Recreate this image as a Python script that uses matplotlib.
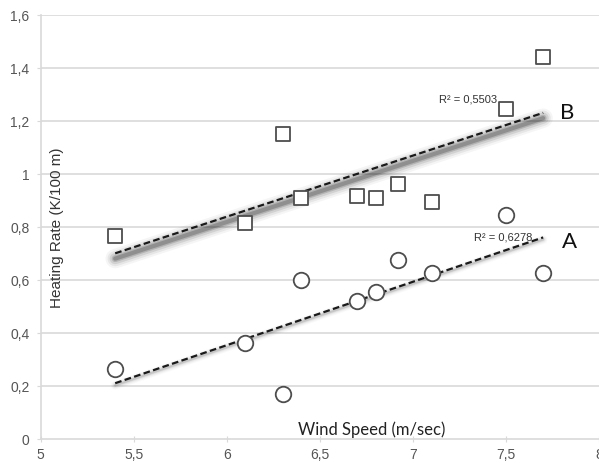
import numpy as np
import matplotlib.pyplot as plt
from matplotlib.ticker import FuncFormatter

# === Данные ===
wind_b = [5.4, 6.1, 6.3, 6.4, 6.7, 6.8, 6.92, 7.1, 7.5, 7.7]
heat_b = [0.765, 0.815, 1.15, 0.91, 0.915, 0.91, 0.96, 0.895, 1.245, 1.44]

wind_a = [5.4, 6.1, 6.3, 6.4, 6.7, 6.8, 6.92, 7.1, 7.5, 7.7]
heat_a = [0.265, 0.36, 0.17, 0.60, 0.52, 0.555, 0.675, 0.625, 0.845, 0.625]

# концы линий тренда (как нарисованы на графике)
trend_x = [5.4, 7.7]
trend_b = [0.70, 1.23]
trend_a = [0.21, 0.76]

r2_b = "R² = 0,5503"
r2_a = "R² = 0,6278"

xticks = [5, 5.5, 6, 6.5, 7, 7.5, 8]
yticks = [0, 0.2, 0.4, 0.6, 0.8, 1.0, 1.2, 1.4, 1.6]

# === Фигура ===
fig = plt.figure(figsize=(5.99, 4.64), dpi=100)
ax = fig.add_axes([0.068, 0.052, 0.932, 0.914])

grid_c = '#d9d9d9'
tick_c = '#555555'

for y in yticks[1:]:
    ax.axhline(y, color=grid_c, lw=1.2, zorder=0)


def shadow_line(xs, ys, strength, drop):
    # размытая тень под линией тренда: несколько толстых полупрозрачных линий
    ys_s = [v - drop for v in ys]
    for lw, a in [(14, 0.04), (11, 0.06), (8, 0.09), (5, 0.14), (3, 0.2)]:
        ax.plot(xs, ys_s, color='black', lw=lw * strength,
                alpha=a * strength, solid_capstyle='round', zorder=2)


shadow_line(trend_x, trend_b, 1.0, 0.02)
shadow_line(trend_x, trend_a, 0.45, 0.008)

ax.plot(trend_x, trend_b, color='#1a1a1a', lw=1.6, dashes=(3, 1.5), zorder=3)
ax.plot(trend_x, trend_a, color='#1a1a1a', lw=1.6, dashes=(3, 1.5), zorder=3)

ax.scatter(wind_b, heat_b, marker='s', s=110, facecolor='white',
           edgecolor='#4d4d4d', linewidth=1.3, zorder=4)
ax.scatter(wind_a, heat_a, marker='o', s=125, facecolor='white',
           edgecolor='#4d4d4d', linewidth=1.3, zorder=4)

# подписи R² и буквы серий
ax.text(7.45, 1.265, r2_b, ha='right', va='bottom', fontsize=8,
        family='Liberation Sans', color='#333333', zorder=5)
ax.text(7.64, 0.745, r2_a, ha='right', va='bottom', fontsize=8,
        family='Liberation Sans', color='#333333', zorder=5)
ax.text(7.83, 1.235, 'B', ha='center', va='center', fontsize=16,
        family='Lato', color='#111111')
ax.text(7.84, 0.745, 'A', ha='center', va='center', fontsize=16,
        family='Lato', color='#111111')

# подписи осей внутри области графика
ax.text(5.09, 0.80, 'Heating Rate (K/100 m)', rotation=90, ha='center',
        va='center', fontsize=11, family='Liberation Sans', color='#333333')
ax.text(6.78, 0.037, 'Wind Speed (m/sec)', ha='center', va='center',
        fontsize=12, family='Lato', color='#222222')

ax.set_xlim(5, 8)
ax.set_ylim(0, 1.6)
ax.set_xticks(xticks)
ax.set_yticks(yticks)
fmt = FuncFormatter(lambda v, p: f'{v:g}'.replace('.', ','))
ax.xaxis.set_major_formatter(fmt)
ax.yaxis.set_major_formatter(fmt)

for lab in ax.get_xticklabels() + ax.get_yticklabels():
    lab.set_family('Liberation Sans')
    lab.set_fontsize(10)
    lab.set_color(tick_c)

ax.tick_params(axis='x', direction='inout', length=5, color=grid_c, pad=3)
ax.tick_params(axis='y', direction='out', length=3, color=grid_c, pad=5)

for side in ['top', 'right']:
    ax.spines[side].set_visible(False)
for side in ['left', 'bottom']:
    ax.spines[side].set_color(grid_c)
    ax.spines[side].set_linewidth(1.2)

fig.savefig('out.png', dpi=100)
